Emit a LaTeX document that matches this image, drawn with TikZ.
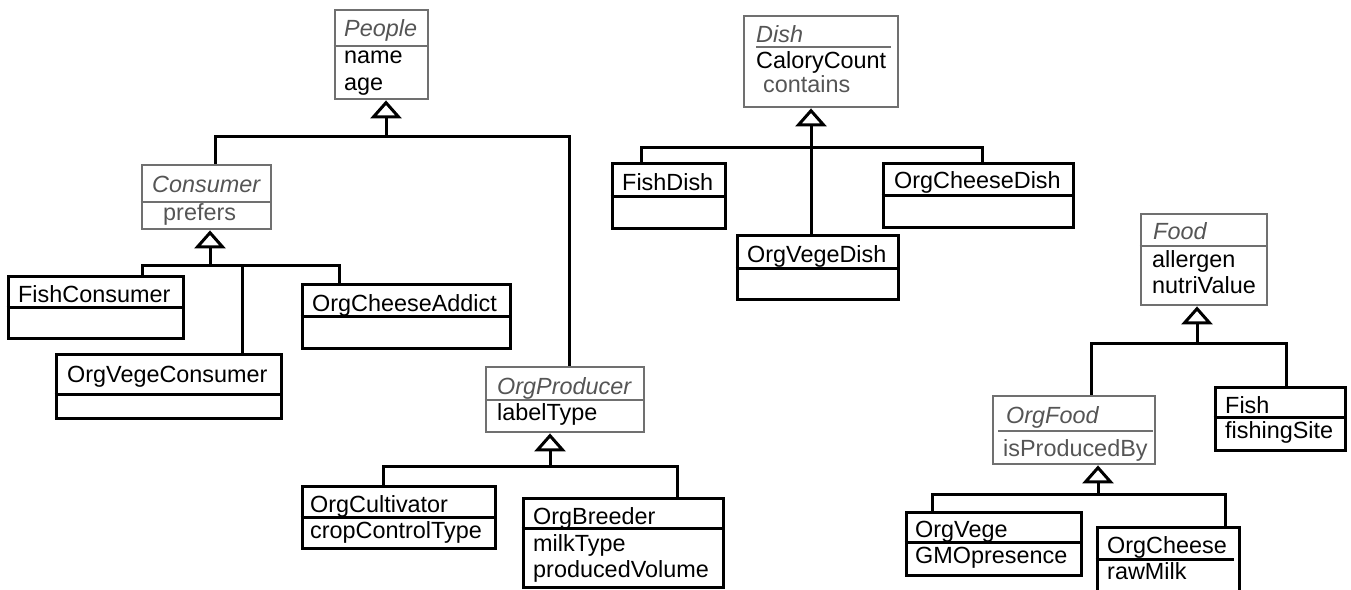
\documentclass[tikz,border=0pt]{standalone}
\usepackage{fontspec}
\setmainfont{Liberation Sans}
\usetikzlibrary{arrows.meta,fit}

\definecolor{umlgray}{HTML}{707070}
\definecolor{umltext}{HTML}{555555}
\newcommand{\umlfont}{\fontsize{23.4pt}{27pt}\selectfont}

\tikzset{
  classbox/.style={draw=black, line width=3pt, inner sep=0pt},
  absbox/.style={draw=umlgray, line width=2.8pt, inner sep=0pt},
  cname/.style={anchor=base west, inner sep=0pt},
  aname/.style={cname, font=\umlfont\itshape, text=umltext},
  attr/.style={anchor=base west, inner sep=0pt},
  link/.style={line width=3pt, line join=miter},
  isa/.style={link, -{Triangle[open, length=18pt, width=31pt]}},
}

% box with one compartment line
\newcommand{\umlbox}[7][classbox]{%
  \node[#1, fit={(#2,#3) (#4,#5)}] (#6) {};
  \draw[#1] (#6.west |- 0,#7) -- (#6.east |- 0,#7);}

\begin{document}
\begin{tikzpicture}[x=1pt, y=-1pt, font=\umlfont]
\useasboundingbox (0,0) rectangle (1351,589);

% people
\umlbox[absbox]{335}{10}{428}{99}{people}{46}
\node[aname] (peopleT) at (344,36) {People};
\node[attr] (peopleA1) at (344,63) {name};
\node[attr] (peopleA2) at (344,90) {age};

\umlbox[absbox]{142}{165}{271}{229}{consumer}{202}
\node[aname] (consumerT) at (152,192) {Consumer};
\node[attr, text=umltext] (consumerA) at (163,220) {prefers};

\umlbox{8}{276}{183}{338}{fishconsumer}{307}
\node[cname] (fishconsumerT) at (18,302) {FishConsumer};

\umlbox{56}{354}{281}{418}{orgvegeconsumer}{394}
\node[cname] (orgvegeconsumerT) at (67,382) {OrgVegeConsumer};

\umlbox{302}{284}{510}{348}{orgcheeseaddict}{316}
\node[cname] (orgcheeseaddictT) at (312,311) {OrgCheeseAddict};

\umlbox[absbox]{486}{367}{644}{432}{orgproducer}{400}
\node[aname] (orgproducerT) at (497,394) {OrgProducer};
\node[attr] (orgproducerA) at (497,420) {labelType};

\umlbox{302}{486}{495}{548}{orgcultivator}{517}
\node[cname] (orgcultivatorT) at (310,512) {OrgCultivator};
\node[attr] (orgcultivatorA) at (310,538) {cropControlType};

\umlbox{523}{498}{723}{587}{orgbreeder}{528}
\node[cname] (orgbreederT) at (533,524) {OrgBreeder};
\node[attr] (orgbreederA1) at (533,551) {milkType};
\node[attr] (orgbreederA2) at (533,577) {producedVolume};

% dishes
\node[absbox, fit={(744,16) (898,107)}] (dish) {};
\draw[absbox] (756,47) -- (891,47);
\node[aname] (dishT) at (756,42) {Dish};
\node[attr] (dishA1) at (756,68) {CaloryCount};
\node[attr, text=umltext] (dishA2) at (763,92) {contains};

\umlbox{612}{163}{725}{228}{fishdish}{196}
\node[cname] (fishdishT) at (622,190) {FishDish};

\umlbox{737}{235}{898}{299}{orgvegedish}{268}
\node[cname] (orgvegedishT) at (747,262) {OrgVegeDish};

\umlbox{883}{163}{1073}{227}{orgcheesedish}{195}
\node[cname] (orgcheesedishT) at (894,188) {OrgCheeseDish};

% food
\umlbox[absbox]{1141}{214}{1267}{305}{food}{246}
\node[aname] (foodT) at (1153,239) {Food};
\node[attr] (foodA1) at (1152,267) {allergen};
\node[attr] (foodA2) at (1152,293) {nutriValue};

\node[absbox, fit={(993,396) (1155,464)}] (orgfood) {};
\draw[absbox] (998,431) -- (1153,431);
\node[aname] (orgfoodT) at (1006,423) {OrgFood};
\node[attr, text=umltext] (orgfoodA) at (1003,456) {isProducedBy};

\umlbox{1215}{387}{1345}{450}{fish}{417}
\node[cname] (fishT) at (1225,413) {Fish};
\node[attr] (fishA) at (1225,438) {fishingSite};

\umlbox{906}{512}{1081}{575}{orgvege}{542}
\node[cname] (orgvegeT) at (915,537) {OrgVege};
\node[attr] (orgvegeA) at (915,563) {GMOpresence};

\node[classbox, fit={(1097,527) (1239,592)}] (orgcheese) {};
\draw[classbox] (orgcheese.west |- 0,559) -- (1234,559);
\node[cname] (orgcheeseT) at (1107,553) {OrgCheese};
\node[attr] (orgcheeseA) at (1107,579) {rawMilk};

% generalisations
\coordinate (peopleJ) at (386,136);
\draw[isa] (peopleJ) -- (peopleJ |- people.south);
\draw[link] (215,0 |- consumer.north) |- (peopleJ) -| (569,0 |- orgproducer.north);

\coordinate (consumerJ) at (210,265);
\draw[isa] (consumerJ) -- (consumerJ |- consumer.south);
\draw[link] (142,0 |- fishconsumer.north) |- (consumerJ) -| (339,0 |- orgcheeseaddict.north);
\draw[link] (242,0 |- orgvegeconsumer.north) -- (242,0 |- consumerJ);

\coordinate (orgproducerJ) at (550,466);
\draw[isa] (orgproducerJ) -- (orgproducerJ |- orgproducer.south);
\draw[link] (383,0 |- orgcultivator.north) |- (orgproducerJ) -| (677,0 |- orgbreeder.north);

\coordinate (dishJ) at (811,147);
\draw[isa] (dishJ) -- (dishJ |- dish.south);
\draw[link] (641,0 |- fishdish.north) |- (dishJ) -| (982,0 |- orgcheesedish.north);
\draw[link] (dishJ |- orgvegedish.north) -- (dishJ);

\coordinate (foodJ) at (1197,343);
\draw[isa] (foodJ) -- (foodJ |- food.south);
\draw[link] (1091,0 |- orgfood.north) |- (foodJ) -| (1286,0 |- fish.north);

\coordinate (orgfoodJ) at (1098,494);
\draw[isa] (orgfoodJ) -- (orgfoodJ |- orgfood.south);
\draw[link] (932,0 |- orgvege.north) |- (orgfoodJ) -| (1225,0 |- orgcheese.north);

\end{tikzpicture}
\end{document}
